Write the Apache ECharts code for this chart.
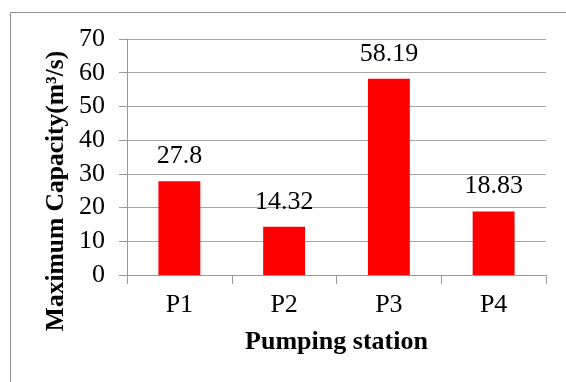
<!DOCTYPE html>
<html>
<head>
<meta charset="utf-8">
<script src="https://cdn.jsdelivr.net/npm/echarts@6/dist/echarts.min.js"></script>
<style>
  html, body { margin: 0; padding: 0; background: #fff; }
  #chart { width: 566px; height: 382px; }
</style>
</head>
<body>
<div id="chart"></div>
<script>
// Pumping stations and their maximum capacity (m³/s)
const stations = ['P1', 'P2', 'P3', 'P4'];
const capacity = [27.8, 14.32, 58.19, 18.83];
const yTicks = [0, 10, 20, 30, 40, 50, 60, 70];

const serif = '"Liberation Serif", "DejaVu Serif", serif';
const chart = echarts.init(document.getElementById('chart'));

chart.setOption({
  animation: false,
  backgroundColor: '#ffffff',
  grid: { left: 127, right: 20, top: 39, bottom: 107, containLabel: false },
  graphic: [
    {
      type: 'rect',
      shape: { x: 10.5, y: 12.5, width: 600, height: 400 },
      style: { fill: 'none', stroke: '#8c8c8c', lineWidth: 1 },
      silent: true
    },
    {
      type: 'text',
      x: 56, y: 191,
      rotation: Math.PI / 2,
      style: {
        text: 'Maximum Capacity(m³/s)',
        font: 'bold 25.5px ' + serif,
        fill: '#000',
        align: 'center',
        verticalAlign: 'middle'
      }
    }
  ],
  xAxis: {
    type: 'category',
    data: stations,
    name: 'Pumping station',
    nameLocation: 'middle',
    nameGap: 54,
    nameTextStyle: { fontFamily: serif, fontWeight: 'bold', fontSize: 26, color: '#000' },
    axisLine: { lineStyle: { color: '#9a9a9a', width: 1 } },
    axisTick: { show: true, length: 9, inside: false, alignWithLabel: false, lineStyle: { color: '#9a9a9a' } },
    axisLabel: { fontFamily: serif, fontSize: 26, color: '#000', margin: 17 },
    splitLine: { show: false }
  },
  yAxis: {
    type: 'value',
    min: yTicks[0],
    max: yTicks[yTicks.length - 1],
    interval: yTicks[1] - yTicks[0],
    axisLine: { show: true, lineStyle: { color: '#9a9a9a', width: 1 } },
    axisTick: { show: true, length: 8, lineStyle: { color: '#9a9a9a' } },
    axisLabel: { fontFamily: serif, fontSize: 26, color: '#000', margin: 22 },
    splitLine: { show: true, lineStyle: { color: '#a6a6a6', width: 1 } }
  },
  series: [{
    type: 'bar',
    data: capacity,
    barWidth: '40%',
    itemStyle: { color: '#ff0000' },
    label: {
      show: true,
      position: 'top',
      distance: 12,
      fontFamily: serif,
      fontSize: 26,
      color: '#000',
      formatter: (p) => String(p.value)
    }
  }]
});
</script>
</body>
</html>
